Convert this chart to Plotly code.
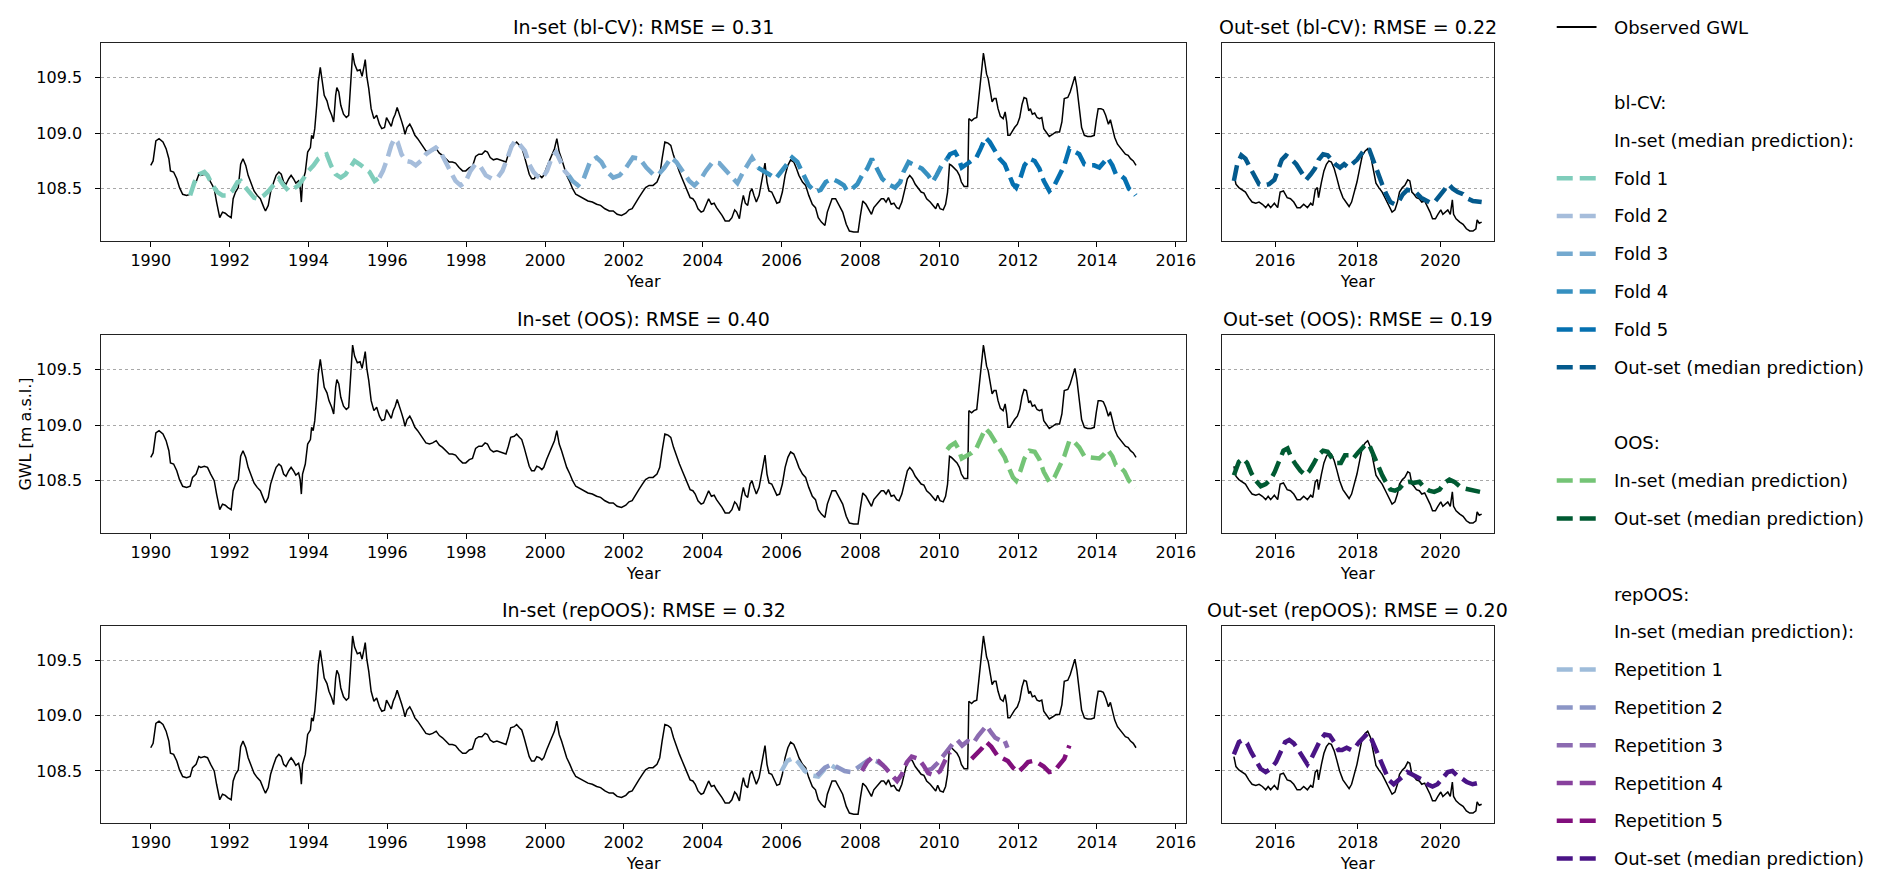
import plotly.graph_objects as go

# ---------------- observed groundwater level (in-set period) ----------------
obs_in_year = [
    1990.00, 1990.06, 1990.13, 1990.21, 1990.31, 1990.39, 1990.46, 1990.50, 1990.58, 1990.66,
    1990.73, 1990.81, 1990.91, 1991.00, 1991.06, 1991.15, 1991.22, 1991.27, 1991.36, 1991.44,
    1991.52, 1991.61, 1991.67, 1991.72, 1991.75, 1991.82, 1991.89, 1991.95, 1992.04, 1992.09,
    1992.15, 1992.22, 1992.28, 1992.34, 1992.41, 1992.47, 1992.54, 1992.62, 1992.70, 1992.78,
    1992.87, 1992.91, 1992.98, 1993.04, 1993.12, 1993.18, 1993.25, 1993.31, 1993.37, 1993.43,
    1993.50, 1993.56, 1993.62, 1993.68, 1993.75, 1993.79, 1993.82, 1993.85, 1993.92, 1993.98,
    1994.05, 1994.08, 1994.12, 1994.16, 1994.21, 1994.25, 1994.30, 1994.35, 1994.40, 1994.47,
    1994.52, 1994.59, 1994.64, 1994.69, 1994.72, 1994.77, 1994.82, 1994.89, 1994.96, 1995.02,
    1995.07, 1995.12, 1995.17, 1995.24, 1995.31, 1995.36, 1995.41, 1995.44, 1995.48, 1995.53,
    1995.59, 1995.66, 1995.73, 1995.80, 1995.86, 1995.93, 1995.98, 1996.03, 1996.10, 1996.15,
    1996.20, 1996.25, 1996.31, 1996.36, 1996.41, 1996.45, 1996.50, 1996.57, 1996.63, 1996.70,
    1996.77, 1996.83, 1996.90, 1996.98, 1997.07, 1997.15, 1997.24, 1997.32, 1997.40, 1997.49,
    1997.57, 1997.65, 1997.73, 1997.82, 1997.91, 1997.99, 1998.08, 1998.16, 1998.24, 1998.32,
    1998.40, 1998.48, 1998.54, 1998.61, 1998.69, 1998.78, 1998.86, 1998.95, 1999.01, 1999.07,
    1999.13, 1999.22, 1999.28, 1999.35, 1999.41, 1999.47, 1999.54, 1999.60, 1999.66, 1999.73,
    1999.79, 1999.86, 1999.92, 1999.97, 2000.04, 2000.11, 2000.18, 2000.24, 2000.30, 2000.36,
    2000.42, 2000.48, 2000.55, 2000.63, 2000.70, 2000.78, 2000.88, 2000.99, 2001.09, 2001.20,
    2001.31, 2001.41, 2001.52, 2001.63, 2001.73, 2001.83, 2001.94, 2002.05, 2002.13, 2002.21,
    2002.30, 2002.38, 2002.47, 2002.55, 2002.64, 2002.74, 2002.84, 2002.91, 2002.97, 2003.04,
    2003.12, 2003.19, 2003.26, 2003.34, 2003.41, 2003.48, 2003.55, 2003.61, 2003.68, 2003.75,
    2003.81, 2003.88, 2003.96, 2004.02, 2004.08, 2004.15, 2004.22, 2004.29, 2004.35, 2004.42,
    2004.49, 2004.57, 2004.67, 2004.74, 2004.81, 2004.86, 2004.93, 2004.98, 2005.03, 2005.08,
    2005.14, 2005.20, 2005.25, 2005.30, 2005.36, 2005.43, 2005.48, 2005.53, 2005.58, 2005.63,
    2005.68, 2005.75, 2005.82, 2005.88, 2005.95, 2006.02, 2006.09, 2006.16, 2006.23, 2006.31,
    2006.38, 2006.44, 2006.53, 2006.61, 2006.69, 2006.78, 2006.86, 2006.93, 2007.01, 2007.10,
    2007.16, 2007.22, 2007.28, 2007.37, 2007.45, 2007.55, 2007.64, 2007.72, 2007.83, 2007.94,
    2008.00, 2008.06, 2008.14, 2008.21, 2008.28, 2008.34, 2008.40, 2008.46, 2008.53, 2008.59,
    2008.65, 2008.71, 2008.78, 2008.85, 2008.92, 2008.98, 2009.05, 2009.12, 2009.19, 2009.25,
    2009.32, 2009.39, 2009.47, 2009.54, 2009.61, 2009.68, 2009.77, 2009.85, 2009.91, 2009.96,
    2010.02, 2010.10, 2010.16, 2010.21, 2010.26, 2010.31, 2010.38, 2010.45, 2010.51, 2010.56,
    2010.63, 2010.72, 2010.75, 2010.82, 2010.88, 2010.95, 2011.00, 2011.05, 2011.09, 2011.12,
    2011.15, 2011.20, 2011.24, 2011.29, 2011.34, 2011.39, 2011.44, 2011.49, 2011.55, 2011.62,
    2011.67, 2011.71, 2011.74, 2011.79, 2011.85, 2011.91, 2011.98, 2012.04, 2012.10, 2012.15,
    2012.21, 2012.27, 2012.31, 2012.36, 2012.42, 2012.48, 2012.54, 2012.60, 2012.65, 2012.71,
    2012.79, 2012.88, 2012.96, 2013.05, 2013.11, 2013.17, 2013.26, 2013.32, 2013.39, 2013.44,
    2013.49, 2013.55, 2013.61, 2013.68, 2013.76, 2013.85, 2013.93, 2013.98, 2014.03, 2014.10,
    2014.16, 2014.22, 2014.29, 2014.34, 2014.39, 2014.45, 2014.52, 2014.59, 2014.65, 2014.72,
    2014.79, 2014.85, 2014.92, 2014.99,
]
obs_in_gwl = [
    108.71, 108.75, 108.93, 108.95, 108.92, 108.86, 108.77, 108.66, 108.65, 108.59,
    108.51, 108.45, 108.44, 108.45, 108.53, 108.56, 108.63, 108.62, 108.63, 108.62,
    108.56, 108.50, 108.38, 108.29, 108.24, 108.29, 108.28, 108.26, 108.24, 108.41,
    108.47, 108.51, 108.72, 108.77, 108.71, 108.62, 108.56, 108.48, 108.44, 108.41,
    108.33, 108.30, 108.35, 108.47, 108.56, 108.62, 108.65, 108.63, 108.56, 108.54,
    108.59, 108.62, 108.59, 108.55, 108.57, 108.51, 108.38, 108.56, 108.65, 108.83,
    108.87, 108.98, 108.95, 109.04, 109.25, 109.46, 109.59, 109.46, 109.34, 109.29,
    109.22, 109.16, 109.10, 109.34, 109.41, 109.37, 109.25, 109.17, 109.14, 109.16,
    109.40, 109.72, 109.62, 109.56, 109.57, 109.51, 109.60, 109.66, 109.51, 109.40,
    109.22, 109.13, 109.16, 109.08, 109.04, 109.05, 109.14, 109.11, 109.06, 109.13,
    109.17, 109.23, 109.17, 109.11, 109.05, 108.99, 109.05, 109.08, 109.04, 108.98,
    108.95, 108.92, 108.88, 108.84, 108.83, 108.84, 108.86, 108.82, 108.80, 108.77,
    108.74, 108.74, 108.73, 108.69, 108.66, 108.66, 108.69, 108.70, 108.79, 108.81,
    108.81, 108.84, 108.83, 108.78, 108.76, 108.77, 108.76, 108.75, 108.74, 108.81,
    108.89, 108.90, 108.92, 108.89, 108.87, 108.80, 108.71, 108.63, 108.59, 108.59,
    108.63, 108.62, 108.60, 108.62, 108.69, 108.75, 108.81, 108.86, 108.95, 108.83,
    108.77, 108.69, 108.62, 108.56, 108.50, 108.45, 108.43, 108.41, 108.39, 108.38,
    108.36, 108.35, 108.32, 108.30, 108.30, 108.27, 108.26, 108.28, 108.31, 108.32,
    108.38, 108.42, 108.47, 108.51, 108.53, 108.53, 108.56, 108.62, 108.77, 108.92,
    108.91, 108.89, 108.80, 108.71, 108.65, 108.59, 108.53, 108.47, 108.42, 108.41,
    108.38, 108.32, 108.29, 108.30, 108.35, 108.41, 108.36, 108.37, 108.33, 108.30,
    108.26, 108.21, 108.21, 108.24, 108.31, 108.29, 108.23, 108.35, 108.44, 108.37,
    108.35, 108.47, 108.50, 108.44, 108.38, 108.44, 108.53, 108.65, 108.73, 108.56,
    108.48, 108.47, 108.41, 108.37, 108.38, 108.47, 108.62, 108.71, 108.76, 108.74,
    108.68, 108.62, 108.56, 108.53, 108.44, 108.36, 108.33, 108.24, 108.20, 108.17,
    108.29, 108.36, 108.41, 108.41, 108.36, 108.29, 108.18, 108.12, 108.11, 108.11,
    108.26, 108.39, 108.36, 108.32, 108.27, 108.33, 108.36, 108.38, 108.41, 108.41,
    108.38, 108.42, 108.36, 108.37, 108.33, 108.32, 108.38, 108.50, 108.59, 108.62,
    108.59, 108.54, 108.50, 108.47, 108.46, 108.41, 108.38, 108.35, 108.32, 108.37,
    108.32, 108.31, 108.36, 108.47, 108.72, 108.71, 108.68, 108.66, 108.62, 108.56,
    108.52, 108.52, 109.13, 109.11, 109.13, 109.14, 109.31, 109.49, 109.63, 109.72,
    109.65, 109.53, 109.49, 109.37, 109.28, 109.31, 109.31, 109.22, 109.15, 109.13,
    109.19, 109.10, 108.98, 108.98, 109.02, 109.05, 109.08, 109.14, 109.26, 109.32,
    109.31, 109.20, 109.22, 109.17, 109.18, 109.14, 109.13, 109.14, 109.04, 109.01,
    108.97, 108.99, 109.01, 109.01, 109.10, 109.31, 109.32, 109.37, 109.46, 109.51,
    109.41, 109.25, 109.05, 108.98, 108.97, 108.97, 108.98, 109.11, 109.22, 109.22,
    109.21, 109.16, 109.08, 109.12, 109.04, 108.96, 108.90, 108.87, 108.85, 108.81,
    108.80, 108.77, 108.75, 108.71,
]

# ---------------- observed groundwater level (out-set period) ----------------
obs_out_year = [
    2015.00, 2015.05, 2015.12, 2015.20, 2015.28, 2015.36, 2015.44, 2015.53, 2015.61, 2015.69,
    2015.77, 2015.83, 2015.89, 2015.98, 2016.06, 2016.12, 2016.20, 2016.29, 2016.37, 2016.45,
    2016.53, 2016.61, 2016.69, 2016.78, 2016.86, 2016.91, 2016.97, 2017.02, 2017.05, 2017.12,
    2017.18, 2017.24, 2017.30, 2017.36, 2017.43, 2017.49, 2017.56, 2017.64, 2017.72, 2017.79,
    2017.85, 2017.92, 2017.98, 2018.05, 2018.11, 2018.18, 2018.24, 2018.31, 2018.38, 2018.44,
    2018.51, 2018.59, 2018.67, 2018.75, 2018.83, 2018.90, 2018.96, 2019.01, 2019.08, 2019.14,
    2019.21, 2019.26, 2019.31, 2019.36, 2019.42, 2019.49, 2019.55, 2019.62, 2019.68, 2019.75,
    2019.81, 2019.88, 2019.94, 2020.01, 2020.06, 2020.12, 2020.18, 2020.24, 2020.29, 2020.32,
    2020.38, 2020.47, 2020.55, 2020.63, 2020.71, 2020.79, 2020.86, 2020.89, 2020.94, 2021.00,
]
obs_out_gwl = [
    108.63, 108.54, 108.51, 108.49, 108.47, 108.42, 108.38, 108.37, 108.38, 108.36,
    108.33, 108.36, 108.33, 108.37, 108.33, 108.47, 108.48, 108.42, 108.41, 108.38,
    108.33, 108.33, 108.36, 108.33, 108.37, 108.35, 108.49, 108.51, 108.42, 108.56,
    108.66, 108.72, 108.75, 108.74, 108.68, 108.60, 108.50, 108.42, 108.38, 108.34,
    108.38, 108.47, 108.56, 108.69, 108.80, 108.84, 108.86, 108.80, 108.65, 108.55,
    108.51, 108.47, 108.41, 108.35, 108.29, 108.31, 108.38, 108.47, 108.51, 108.53,
    108.58, 108.57, 108.47, 108.45, 108.42, 108.41, 108.38, 108.39, 108.35, 108.29,
    108.23, 108.23, 108.27, 108.31, 108.27, 108.29, 108.31, 108.27, 108.40, 108.27,
    108.23, 108.20, 108.18, 108.14, 108.12, 108.12, 108.14, 108.22, 108.19, 108.20,
]

# ---------------- bl-CV in-set median predictions (5 folds) ----------------
fold1_year = [1991.00, 1991.11, 1991.23, 1991.36, 1991.44, 1991.57, 1991.69, 1991.82, 1991.95, 1992.07,
              1992.20, 1992.28, 1992.36, 1992.49, 1992.62, 1992.74, 1992.87, 1992.99, 1993.12, 1993.25,
              1993.37, 1993.50, 1993.62, 1993.75, 1993.87, 1994.00, 1994.13, 1994.25, 1994.38, 1994.46,
              1994.57, 1994.69, 1994.82, 1994.94, 1995.06, 1995.17, 1995.30, 1995.43, 1995.55, 1995.68,
              1995.80]
fold1_gwl = [108.44, 108.56, 108.63, 108.65, 108.62, 108.53, 108.47, 108.44, 108.44, 108.48,
             108.56, 108.57, 108.53, 108.47, 108.42, 108.41, 108.44, 108.48, 108.54, 108.59,
             108.53, 108.48, 108.50, 108.53, 108.59, 108.66, 108.71, 108.77, 108.80, 108.81,
             108.71, 108.63, 108.60, 108.63, 108.69, 108.75, 108.72, 108.68, 108.65, 108.57,
             108.60]
fold2_year = [1995.80, 1995.89, 1996.00, 1996.10, 1996.18, 1996.26, 1996.36, 1996.47, 1996.60, 1996.72,
              1996.85, 1996.98, 1997.10, 1997.23, 1997.35, 1997.48, 1997.61, 1997.73, 1997.86, 1997.98,
              1998.11, 1998.23, 1998.36, 1998.50, 1998.65, 1998.80, 1998.92, 1999.05, 1999.15, 1999.24,
              1999.35, 1999.49, 1999.60, 1999.71, 1999.82, 1999.92, 2000.05, 2000.17, 2000.28, 2000.40,
              2000.50, 2000.60]
fold2_gwl = [108.60, 108.66, 108.77, 108.89, 108.95, 108.92, 108.81, 108.75, 108.74, 108.71,
             108.75, 108.81, 108.84, 108.87, 108.83, 108.75, 108.65, 108.57, 108.53, 108.56,
             108.66, 108.72, 108.70, 108.62, 108.59, 108.60, 108.66, 108.78, 108.88, 108.93,
             108.90, 108.84, 108.72, 108.65, 108.61, 108.59, 108.66, 108.78, 108.83, 108.74,
             108.66, 108.62]
fold3_year = [2000.60, 2000.70, 2000.84, 2000.97, 2001.14, 2001.31, 2001.43, 2001.56, 2001.73, 2001.89,
              2002.06, 2002.23, 2002.40, 2002.57, 2002.74, 2002.86, 2003.03, 2003.20, 2003.33, 2003.49,
              2003.66, 2003.79, 2003.96, 2004.08, 2004.25, 2004.42, 2004.59, 2004.76, 2004.88, 2005.01,
              2005.14, 2005.25, 2005.40]
fold3_gwl = [108.62, 108.57, 108.53, 108.58, 108.74, 108.78, 108.74, 108.66, 108.60, 108.62,
             108.69, 108.78, 108.77, 108.69, 108.63, 108.62, 108.69, 108.78, 108.74, 108.65,
             108.57, 108.53, 108.59, 108.66, 108.74, 108.73, 108.66, 108.59, 108.55, 108.64,
             108.71, 108.78, 108.69]
fold4_year = [2005.40, 2005.52, 2005.68, 2005.85, 2005.98, 2006.11, 2006.27, 2006.40, 2006.53, 2006.69,
              2006.86, 2006.99, 2007.12, 2007.28, 2007.45, 2007.58, 2007.66, 2007.79, 2007.92, 2008.04,
              2008.17, 2008.29, 2008.42, 2008.55, 2008.71, 2008.88, 2009.01, 2009.09, 2009.22, 2009.39,
              2009.56, 2009.72, 2009.83, 2009.93, 2010.06, 2010.20]
fold4_gwl = [108.69, 108.66, 108.63, 108.59, 108.65, 108.71, 108.78, 108.74, 108.65, 108.53,
             108.47, 108.49, 108.56, 108.59, 108.56, 108.53, 108.48, 108.50, 108.54, 108.62,
             108.68, 108.77, 108.68, 108.59, 108.54, 108.51, 108.56, 108.65, 108.74, 108.71,
             108.68, 108.62, 108.56, 108.62, 108.71, 108.77]
fold5_year = [2010.20, 2010.27, 2010.40, 2010.48, 2010.57, 2010.69, 2010.82, 2010.94, 2011.05, 2011.17,
              2011.28, 2011.41, 2011.53, 2011.66, 2011.76, 2011.87, 2011.95, 2012.06, 2012.16, 2012.29,
              2012.42, 2012.54, 2012.65, 2012.79, 2012.92, 2013.05, 2013.17, 2013.30, 2013.42, 2013.55,
              2013.68, 2013.80, 2013.93, 2014.06, 2014.18, 2014.27, 2014.39, 2014.48, 2014.60, 2014.70,
              2014.81, 2014.92, 2014.98]
fold5_gwl = [108.77, 108.81, 108.83, 108.78, 108.69, 108.72, 108.74, 108.78, 108.86, 108.96,
             108.92, 108.84, 108.77, 108.72, 108.63, 108.54, 108.51, 108.60, 108.71, 108.77,
             108.75, 108.68, 108.57, 108.48, 108.53, 108.62, 108.71, 108.86, 108.84, 108.81,
             108.72, 108.71, 108.71, 108.69, 108.74, 108.78, 108.71, 108.63, 108.62, 108.59,
             108.50, 108.47, 108.44]

# ---------------- bl-CV out-set median prediction ----------------
blcv_out_year = [2015.00, 2015.08, 2015.18, 2015.28, 2015.39, 2015.49, 2015.61, 2015.73, 2015.85, 2015.98,
                 2016.06, 2016.16, 2016.26, 2016.38, 2016.51, 2016.63, 2016.75, 2016.86, 2016.96, 2017.05,
                 2017.16, 2017.27, 2017.36, 2017.46, 2017.57, 2017.67, 2017.77, 2017.87, 2017.98, 2018.08,
                 2018.18, 2018.28, 2018.38, 2018.49, 2018.59, 2018.69, 2018.79, 2018.90, 2019.00, 2019.09,
                 2019.20, 2019.31, 2019.40, 2019.53, 2019.65, 2019.77, 2019.88, 2019.99, 2020.10, 2020.20,
                 2020.30, 2020.42, 2020.55, 2020.67, 2020.79, 2020.91, 2021.00]
blcv_out_gwl = [108.57, 108.72, 108.80, 108.77, 108.69, 108.63, 108.54, 108.53, 108.54, 108.58,
                108.67, 108.76, 108.80, 108.77, 108.72, 108.65, 108.58, 108.63, 108.68, 108.76,
                108.81, 108.80, 108.76, 108.72, 108.69, 108.72, 108.69, 108.72, 108.76, 108.81,
                108.86, 108.85, 108.74, 108.63, 108.54, 108.45, 108.38, 108.36, 108.39, 108.45,
                108.49, 108.48, 108.47, 108.42, 108.39, 108.37, 108.39, 108.44, 108.49, 108.54,
                108.50, 108.47, 108.45, 108.41, 108.39, 108.39, 108.38]

# ---------------- OOS median predictions ----------------
oos_in_year = fold5_year
oos_in_gwl = [108.78, 108.81, 108.84, 108.79, 108.70, 108.72, 108.75, 108.79, 108.87, 108.97,
              108.93, 108.85, 108.77, 108.71, 108.62, 108.53, 108.50, 108.59, 108.70, 108.77,
              108.76, 108.69, 108.58, 108.49, 108.53, 108.63, 108.72, 108.86, 108.85, 108.80,
              108.72, 108.71, 108.70, 108.70, 108.74, 108.78, 108.72, 108.64, 108.62, 108.58,
              108.50, 108.46, 108.44]
oos_out_year = [2015.00, 2015.12, 2015.22, 2015.32, 2015.42, 2015.53, 2015.65, 2015.77, 2015.89, 2015.99,
                2016.10, 2016.20, 2016.30, 2016.40, 2016.51, 2016.61, 2016.73, 2016.83, 2016.94, 2017.04,
                2017.16, 2017.27, 2017.38, 2017.49, 2017.59, 2017.69, 2017.79, 2017.89, 2018.00, 2018.10,
                2018.20, 2018.28, 2018.38, 2018.49, 2018.59, 2018.69, 2018.79, 2018.90, 2019.01, 2019.12,
                2019.24, 2019.36, 2019.49, 2019.61, 2019.73, 2019.85, 2019.98, 2020.10, 2020.22, 2020.34,
                2020.47, 2020.59, 2020.71, 2020.83, 2020.96]
oos_out_gwl = [108.55, 108.67, 108.70, 108.66, 108.57, 108.50, 108.45, 108.47, 108.51, 108.58,
               108.68, 108.77, 108.79, 108.70, 108.64, 108.59, 108.55, 108.59, 108.66, 108.73,
               108.77, 108.76, 108.70, 108.66, 108.66, 108.73, 108.73, 108.70, 108.75, 108.79,
               108.83, 108.82, 108.73, 108.64, 108.55, 108.48, 108.42, 108.41, 108.43, 108.48,
               108.49, 108.48, 108.49, 108.44, 108.41, 108.40, 108.42, 108.48, 108.51, 108.49,
               108.45, 108.43, 108.42, 108.41, 108.40]

# ---------------- repOOS median predictions ----------------
rep1_year = [2006.00, 2006.14, 2006.31, 2006.42, 2006.59, 2006.76, 2006.93, 2007.10, 2007.27, 2007.40]
rep1_gwl = [108.50, 108.59, 108.62, 108.58, 108.50, 108.46, 108.45, 108.52, 108.55, 108.52]
rep2_year = [2006.90, 2007.10, 2007.27, 2007.43, 2007.60, 2007.77, 2007.94, 2008.11, 2008.25, 2008.40, 2008.58]
rep2_gwl = [108.46, 108.53, 108.56, 108.53, 108.50, 108.49, 108.53, 108.58, 108.61, 108.59, 108.55]
rep3_year = [2009.64, 2009.81, 2009.98, 2010.10, 2010.23, 2010.35, 2010.46, 2010.58, 2010.72, 2010.86,
             2010.99, 2011.11, 2011.20, 2011.31, 2011.42, 2011.53, 2011.64, 2011.73]
rep3_gwl = [108.50, 108.52, 108.58, 108.64, 108.70, 108.75, 108.78, 108.73, 108.77, 108.75,
            108.82, 108.88, 108.91, 108.85, 108.80, 108.78, 108.79, 108.71]
rep4_year = [2008.04, 2008.17, 2008.29, 2008.46, 2008.63, 2008.80, 2008.93, 2009.05, 2009.18, 2009.30,
             2009.47, 2009.60, 2009.72, 2009.88, 2010.02, 2010.14, 2010.27]
rep4_gwl = [108.50, 108.58, 108.62, 108.59, 108.53, 108.46, 108.41, 108.47, 108.58, 108.63,
            108.61, 108.55, 108.48, 108.46, 108.50, 108.59, 108.67]
rep5_year = [2010.82, 2010.94, 2011.07, 2011.20, 2011.32, 2011.47, 2011.62, 2011.74, 2011.87, 2012.00,
             2012.12, 2012.25, 2012.37, 2012.52, 2012.65, 2012.79, 2012.92, 2013.05, 2013.17, 2013.30]
rep5_gwl = [108.61, 108.65, 108.70, 108.76, 108.72, 108.64, 108.61, 108.59, 108.53, 108.49,
            108.53, 108.58, 108.59, 108.57, 108.54, 108.49, 108.50, 108.55, 108.61, 108.73]
rep_out_year = [2015.00, 2015.12, 2015.22, 2015.32, 2015.42, 2015.53, 2015.65, 2015.77, 2015.89, 2016.02,
                2016.12, 2016.24, 2016.34, 2016.45, 2016.56, 2016.67, 2016.78, 2016.87, 2016.97, 2017.08,
                2017.20, 2017.32, 2017.43, 2017.53, 2017.62, 2017.73, 2017.84, 2017.93, 2018.03, 2018.14,
                2018.24, 2018.34, 2018.44, 2018.55, 2018.65, 2018.75, 2018.87, 2018.98, 2019.09, 2019.20,
                2019.32, 2019.44, 2019.57, 2019.69, 2019.81, 2019.93, 2020.06, 2020.18, 2020.29, 2020.40,
                2020.53, 2020.64, 2020.78, 2020.89, 2021.00]
rep_out_gwl = [108.65, 108.76, 108.78, 108.75, 108.67, 108.59, 108.52, 108.49, 108.52, 108.58,
               108.67, 108.76, 108.78, 108.75, 108.69, 108.62, 108.56, 108.61, 108.69, 108.77,
               108.83, 108.82, 108.76, 108.69, 108.69, 108.71, 108.69, 108.71, 108.76, 108.80,
               108.84, 108.78, 108.69, 108.58, 108.49, 108.42, 108.38, 108.41, 108.45, 108.49,
               108.47, 108.45, 108.42, 108.38, 108.36, 108.38, 108.44, 108.49, 108.50, 108.46,
               108.43, 108.40, 108.38, 108.39, 108.38]

# ---------------- labels & colours ----------------
panel_titles = [
    ["In-set (bl-CV): RMSE = 0.31", "Out-set (bl-CV): RMSE = 0.22"],
    ["In-set (OOS): RMSE = 0.40", "Out-set (OOS): RMSE = 0.19"],
    ["In-set (repOOS): RMSE = 0.32", "Out-set (repOOS): RMSE = 0.20"],
]
fold_names = ["Fold 1", "Fold 2", "Fold 3", "Fold 4", "Fold 5"]
fold_colors = ["#7fcdbb", "#a6bddb", "#74a9cf", "#3690c0", "#0570b0"]
blcv_out_color = "#045a8d"
oos_in_color = "#74c476"
oos_out_color = "#005a32"
rep_names = ["Repetition 1", "Repetition 2", "Repetition 3", "Repetition 4", "Repetition 5"]
rep_colors = ["#9ebcda", "#8c96c6", "#8c6bb1", "#88419d", "#810f7c"]
rep_out_color = "#4a1486"
in_xticks = list(range(1990, 2017, 2))
out_xticks = [2016, 2018, 2020]
y_ticks = [108.5, 109.0, 109.5]

# ---------------- figure ----------------
W, H = 1892, 890
FONT = "DejaVu Sans"
col_px = [(102, 1192), (1228, 1502)]
row_px = [(43, 241), (335, 533), (626, 823)]
x_ranges = [[1988.75, 2016.25], [2014.7, 2021.3]]
y_range = [108.03, 109.81]
DASH = "16px,7px"
PW = 4.5

fig = go.Figure()


def ax_id(r, c):
    return 2 * r + c + 1


def add(x, y, r, c, color, width, dash=None):
    k = ax_id(r, c)
    fig.add_trace(go.Scatter(
        x=x, y=y, mode="lines", showlegend=False, hoverinfo="skip",
        line=dict(color=color, width=width, dash=dash),
        xaxis="x" if k == 1 else f"x{k}", yaxis="y" if k == 1 else f"y{k}",
    ))


for r in range(3):
    add(obs_in_year, obs_in_gwl, r, 0, "black", 1.5)
    add(obs_out_year, obs_out_gwl, r, 1, "black", 1.5)

for xs, ys, col in zip([fold1_year, fold2_year, fold3_year, fold4_year, fold5_year],
                       [fold1_gwl, fold2_gwl, fold3_gwl, fold4_gwl, fold5_gwl], fold_colors):
    add(xs, ys, 0, 0, col, PW, DASH)
add(blcv_out_year, blcv_out_gwl, 0, 1, blcv_out_color, PW, DASH)

add(oos_in_year, oos_in_gwl, 1, 0, oos_in_color, PW, DASH)
add(oos_out_year, oos_out_gwl, 1, 1, oos_out_color, PW, DASH)

for xs, ys, col in zip([rep1_year, rep2_year, rep3_year, rep4_year, rep5_year],
                       [rep1_gwl, rep2_gwl, rep3_gwl, rep4_gwl, rep5_gwl], rep_colors):
    add(xs, ys, 2, 0, col, PW, DASH)
add(rep_out_year, rep_out_gwl, 2, 1, rep_out_color, PW, DASH)

layout = dict(
    width=W, height=H, margin=dict(l=0, r=0, t=0, b=0),
    paper_bgcolor="white", plot_bgcolor="white",
    font=dict(family=FONT, size=16, color="black"),
    showlegend=False,
)
annotations = []
shapes = []
for r in range(3):
    top, bot = row_px[r]
    for c in range(2):
        k = ax_id(r, c)
        left, right = col_px[c]
        xname = "xaxis" if k == 1 else f"xaxis{k}"
        yname = "yaxis" if k == 1 else f"yaxis{k}"
        layout[xname] = dict(
            domain=[left / W, right / W], range=x_ranges[c], anchor="y" if k == 1 else f"y{k}",
            tickmode="array", tickvals=in_xticks if c == 0 else out_xticks,
            ticks="outside", ticklen=5, tickwidth=1.2, tickcolor="black",
            showline=True, linecolor="#222", linewidth=1.3, mirror=True,
            showgrid=False, zeroline=False,
            tickfont=dict(family=FONT, size=16, color="black"),
            title=dict(text="Year", font=dict(family=FONT, size=16, color="black"), standoff=6),
        )
        layout[yname] = dict(
            domain=[1 - bot / H, 1 - top / H], range=y_range, anchor="x" if k == 1 else f"x{k}",
            tickmode="array", tickvals=y_ticks, tickformat=".1f",
            ticks="outside", ticklen=5, tickwidth=1.2, tickcolor="black",
            showticklabels=(c == 0), ticklabelstandoff=10,
            showline=True, linecolor="#222", linewidth=1.3, mirror=True,
            showgrid=True, gridcolor="#a8a8a8", griddash="dot", gridwidth=1,
            zeroline=False,
            tickfont=dict(family=FONT, size=16, color="black"),
        )
        if k == 3:
            layout[yname]["title"] = dict(text="GWL [m a.s.l.]",
                                          font=dict(family=FONT, size=16, color="black"), standoff=0)
        annotations.append(dict(
            text=panel_titles[r][c], xref="paper", yref="paper",
            x=(left + right) / 2 / W, y=1 - (top - 16) / H, xanchor="center", yanchor="middle",
            showarrow=False, font=dict(family=FONT, size=19, color="black"),
        ))

# ---------------- legend (drawn as text + sample lines) ----------------
legend_rows = [
    ("Observed GWL", "black", "solid"),
    ("", None, None),
    ("bl-CV:", None, None),
    ("In-set (median prediction):", None, None),
] + [(n, c, "dash") for n, c in zip(fold_names, fold_colors)] + [
    ("Out-set (median prediction)", blcv_out_color, "dash"),
    ("", None, None),
    ("OOS:", None, None),
    ("In-set (median prediction)", oos_in_color, "dash"),
    ("Out-set (median prediction)", oos_out_color, "dash"),
    ("", None, None),
    ("repOOS:", None, None),
    ("In-set (median prediction):", None, None),
] + [(n, c, "dash") for n, c in zip(rep_names, rep_colors)] + [
    ("Out-set (median prediction)", rep_out_color, "dash"),
]
LEG_X0, LEG_X1, LEG_TX, LEG_Y0, LEG_DY = 1565, 1605, 1621, 27, 37.8
for i, (txt, col, style) in enumerate(legend_rows):
    yc = LEG_Y0 + LEG_DY * i
    if txt:
        annotations.append(dict(
            text=txt, xref="paper", yref="paper", x=LEG_TX / W, y=1 - yc / H,
            xanchor="left", yanchor="middle", showarrow=False,
            font=dict(family=FONT, size=18, color="black"),
        ))
    if col:
        shapes.append(dict(
            type="line", xref="paper", yref="paper",
            x0=LEG_X0 / W, x1=LEG_X1 / W, y0=1 - yc / H, y1=1 - yc / H,
            line=dict(color=col, width=2 if style == "solid" else PW,
                      dash="solid" if style == "solid" else DASH),
        ))

layout["annotations"] = annotations
layout["shapes"] = shapes
fig.update_layout(**layout)

fig.write_html(
    "out.html",
    config={"displayModeBar": False},
    post_script="document.body.style.margin='0';document.body.style.overflow='hidden';",
)
